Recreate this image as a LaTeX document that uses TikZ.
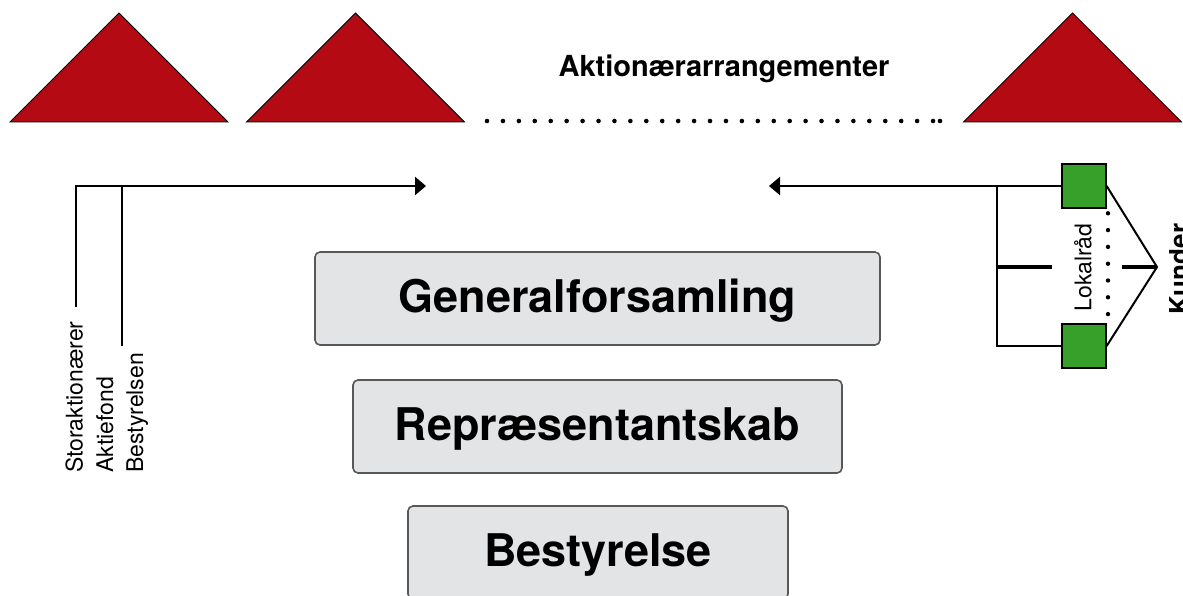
\documentclass[tikz,border=0pt]{standalone}
\usepackage{fontspec}
\setmainfont{TeX Gyre Heros}
\usepackage{xcolor}
\usepackage{tikz}
\usetikzlibrary{arrows.meta,positioning,calc}
\definecolor{aktierod}{RGB}{179,10,20}
\definecolor{lokalgron}{RGB}{54,160,43}
\definecolor{kassegra}{RGB}{227,228,230}
\definecolor{kantgra}{RGB}{88,88,88}

\begin{document}
\begin{tikzpicture}[x=1pt,y=-1pt,
  organ/.style={draw=kantgra, fill=kassegra, line width=1.6pt, rounded corners=5pt, inner sep=0pt, minimum height=93pt, text height=27pt, text depth=0pt, font=\fontsize{45}{50}\selectfont\bfseries},
  lbl/.style={inner sep=0pt, font=\fontsize{23}{26}\selectfont},
  lokal/.style={draw=black, fill=lokalgron, line width=1.3pt, minimum size=44pt, inner sep=0pt},
  linje/.style={line width=2.4pt},
  stump/.style={line width=4.5pt},
  pil/.style={-{Triangle[length=11pt,width=18pt]}}]
\clip (0,0) rectangle (1183,596);

\foreach \cx in {119,355.5,1072.5} {
  \filldraw[fill=aktierod, draw=black, line width=0.8pt] (\cx-109,122) -- (\cx,13) -- (\cx+109,122) -- cycle;
}
\foreach \i in {0,...,28} {
  \fill ({487+15.93*\i},121) circle (2.3pt);
}
\fill (940,121) circle (2.3pt);
\node[inner sep=0pt, font=\fontsize{29}{32}\selectfont\bfseries] (arrangement) at (724,69) {Aktionærarrangementer};

\node[organ, minimum width=565pt] (gf) at (597.5,298.5) {Generalforsamling};
\node[organ, minimum width=489pt] (rep) at (597.5,426.5) {Repræsentantskab};
\node[organ, minimum width=380pt] (best) at (598,552.5) {Bestyrelse};

\foreach \x/\n/\label in {82.5/storakt/Storaktionærer,113/fond/Aktiefond,143/bestyr/Bestyrelsen} {
  \node[lbl, rotate=90, anchor=base west] (\n) at (\x,473) {\label};
}
\coordinate (s1) at (76,307);
\coordinate (s2) at (122,346);
\coordinate (pilv) at (426,186);
\draw[linje, pil] (s1) |- (pilv);
\draw[linje] (s2) -- (s2 |- pilv);

\node[lokal] (lr1) at (1084,186) {};
\node[lokal] (lr2) at (1084,346) {};
\coordinate (pilh) at (769,186);
\coordinate (knude) at (997,186);
\coordinate (spids) at (1157,267);
\draw[linje, pil] (lr1.west) -- (pilh);
\draw[linje] (lr2.west) -| (knude);
\draw[stump] (knude |- spids) -- ++(55,0);
\draw[stump] (spids) -- ++(-35,0);
\draw[line width=2pt] (lr1.east) -- (spids) -- (lr2.east);
\foreach \i in {0,...,6} {
  \fill (1108,{213.3+16.8*\i}) circle (2.2pt);
}
\node[lbl, rotate=90] (lokalraad) at (1083,267.5) {Lokalråd};
\node[rotate=90, anchor=north, inner sep=0pt, font=\fontsize{26}{30}\selectfont\bfseries] (kunder) at (1169,269) {Kunder};
\end{tikzpicture}
\end{document}
